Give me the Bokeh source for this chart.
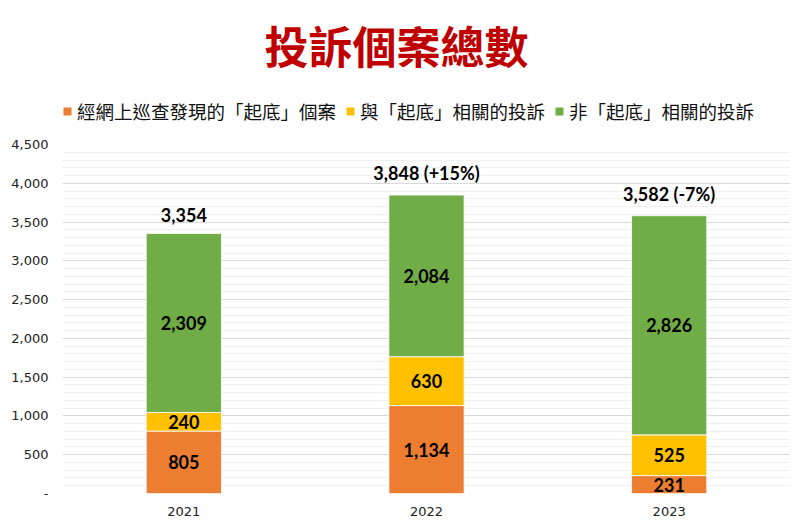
from bokeh.plotting import figure
from bokeh.layouts import column
from bokeh.models import ColumnDataSource, Legend, LegendItem, CustomJSTickFormatter, FixedTicker, Label
from bokeh.core.properties import value
from bokeh.embed import file_html
from bokeh.resources import INLINE

years = ["2021", "2022", "2023"]
online = [805, 1134, 231]
related = [240, 630, 525]
unrelated = [2309, 2084, 2826]
total_suffix = ["", " (+15%)", " (-7%)"]
series_names = ["經網上巡查發現的「起底」個案", "與「起底」相關的投訴", "非「起底」相關的投訴"]
colors = ["#ED7D31", "#FFC000", "#70AD47"]
keys = ["online", "related", "unrelated"]

W = 790
BL, BR = 62, 0

# ---------- header: title + legend ----------
hdr = figure(width=W, height=130, x_range=(0, 1), y_range=(0, 1),
             output_backend="svg", toolbar_location=None,
             min_border_left=BL, min_border_right=BR, min_border_top=0, min_border_bottom=0)
hdr.axis.visible = False
hdr.grid.visible = False
hdr.outline_line_color = None

title = Label(x=334, y=86, x_units="screen", y_units="screen", text="投訴個案總數",
              text_align="center", text_baseline="middle",
              text_font="Noto Sans CJK TC", text_font_size="44px", text_font_style="bold",
              text_color="#C00000")
hdr.add_layout(title)

# invisible placeholder glyphs, only used to draw the legend swatches
dummy = [hdr.vbar(x=[0], top=[0], width=0, fill_color=c, line_alpha=0) for c in colors]
legend = Legend(items=[LegendItem(label=n, renderers=[r]) for n, r in zip(series_names, dummy)],
                orientation="horizontal", location=(0, 6),
                label_text_font="Noto Sans CJK TC", label_text_font_size="18.5px",
                label_text_color="#111111",
                glyph_width=10, glyph_height=10, label_standoff=5, spacing=9,
                padding=0, margin=0, border_line_color=None, background_fill_alpha=0)
hdr.add_layout(legend, "center")

# ---------- main chart ----------
src = ColumnDataSource(dict(years=years, online=online, related=related, unrelated=unrelated))

p = figure(x_range=years, y_range=(0, 4500), width=W, height=391,
           output_backend="svg", toolbar_location=None,
           min_border_left=BL, min_border_right=BR, min_border_bottom=28, min_border_top=14)
p.outline_line_color = None

p.vbar_stack(keys, x="years", width=0.31, source=src, color=colors,
             line_color="white", line_width=0.8)

seg_x, seg_y, seg_t = [], [], []
for i, y in enumerate(years):
    base = 0
    for arr in (online, related, unrelated):
        v = arr[i]
        seg_x.append(y)
        seg_y.append(base + v / 2)
        seg_t.append(f"{v:,}")
        base += v
p.text(x=seg_x, y=seg_y, text=seg_t, text_align="center", text_baseline="middle",
       text_font=value("Lato"), text_font_style="bold", text_font_size="18px", text_color="black")

totals = [a + b + c for a, b, c in zip(online, related, unrelated)]
tot_t = [f"{t:,}{s}" for t, s in zip(totals, total_suffix)]
p.text(x=years, y=totals, text=tot_t, text_align="center", text_baseline="bottom", y_offset=-11,
       text_font=value("Lato"), text_font_style="bold", text_font_size="18px", text_color="black")

p.yaxis.ticker = FixedTicker(ticks=list(range(0, 4501, 500)),
                             minor_ticks=list(range(0, 4501, 100)))
p.yaxis.formatter = CustomJSTickFormatter(code="return tick == 0 ? '-' : tick.toLocaleString('en-US');")
for ax in (p.xaxis, p.yaxis):
    ax.axis_line_color = None
    ax.major_tick_line_color = None
    ax.minor_tick_line_color = None
    ax.major_label_text_font = "DejaVu Sans"
    ax.major_label_text_font_size = "13px"
    ax.major_label_text_color = "#222222"
p.yaxis.major_label_standoff = 8
p.xaxis.major_label_standoff = 7

p.xgrid.grid_line_color = None
p.ygrid.grid_line_color = "#D9D9D9"
p.ygrid.minor_grid_line_color = "#F0F0F0"

layout = column(hdr, p, spacing=0)
open("out.html", "w").write(file_html(layout, INLINE))
